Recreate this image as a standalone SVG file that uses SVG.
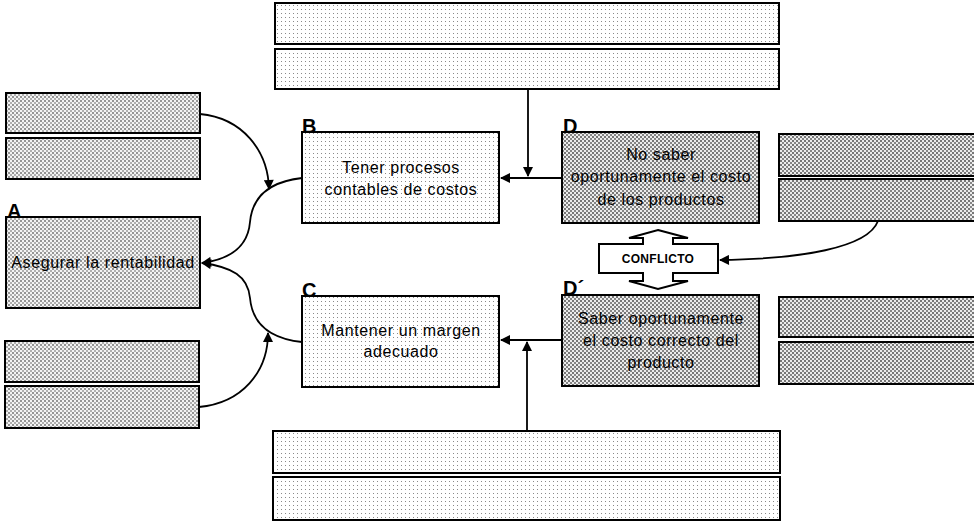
<svg xmlns="http://www.w3.org/2000/svg" width="974" height="522" viewBox="0 0 974 522">
  <defs>
    <!-- stipple fills -->
    <pattern id="dotLight" patternUnits="userSpaceOnUse" width="4" height="4">
      <rect width="4" height="4" fill="#ffffff"/>
      <rect x="1" y="1" width="1" height="1" fill="#8a8a8a"/>
    </pattern>
    <pattern id="dotMed" patternUnits="userSpaceOnUse" width="4" height="4">
      <rect width="4" height="4" fill="#f4f4f4"/>
      <rect x="0" y="0" width="2" height="2" fill="#959595"/>
      <rect x="2" y="2" width="2" height="2" fill="#b0b0b0"/>
    </pattern>
    <pattern id="dotDense" patternUnits="userSpaceOnUse" width="4" height="4">
      <rect width="4" height="4" fill="#ececec"/>
      <rect x="0" y="0" width="2" height="2" fill="#767676"/>
      <rect x="2" y="2" width="2" height="2" fill="#868686"/>
    </pattern>
    <marker id="arrow" viewBox="0 0 10 10" refX="9" refY="5" markerWidth="12" markerHeight="10" markerUnits="userSpaceOnUse" orient="auto">
      <path d="M0,0 L10,5 L0,10 Z" fill="#000"/>
    </marker>
    <style>
      .box { stroke: #000; stroke-width: 2; }
      .light { fill: url(#dotLight); }
      .med { fill: url(#dotMed); }
      .dense { fill: url(#dotDense); }
      .txt { font-family: "Liberation Sans", Arial, sans-serif; font-size: 16px; letter-spacing: 0.6px; fill: #000; text-anchor: middle; }
      .lbl { font-family: "Liberation Sans", Arial, sans-serif; font-size: 20px; font-weight: bold; fill: #000; }
      .conn { fill: none; stroke: #000; stroke-width: 1.8; }
    </style>
  </defs>

  <rect width="974" height="522" fill="#ffffff"/>

  <!-- top empty boxes -->
  <g id="top-boxes">
    <rect class="box light" x="275" y="3" width="504" height="41"/>
    <rect class="box light" x="275" y="49" width="504" height="40"/>
  </g>

  <!-- left empty boxes (upper) -->
  <g id="left-upper-boxes">
    <rect class="box med" x="6" y="93" width="194" height="40"/>
    <rect class="box med" x="6" y="138" width="194" height="41"/>
  </g>

  <!-- left empty boxes (lower) -->
  <g id="left-lower-boxes">
    <rect class="box med" x="5" y="341" width="194" height="41"/>
    <rect class="box med" x="5" y="386" width="194" height="42"/>
  </g>

  <!-- right empty boxes (upper) -->
  <g id="right-upper-boxes">
    <rect class="box dense" x="779" y="134" width="205" height="42"/>
    <rect class="box dense" x="779" y="179" width="205" height="42"/>
  </g>

  <!-- right empty boxes (lower) -->
  <g id="right-lower-boxes">
    <rect class="box dense" x="779" y="297" width="205" height="40"/>
    <rect class="box dense" x="779" y="342" width="205" height="42"/>
  </g>

  <!-- bottom empty boxes -->
  <g id="bottom-boxes">
    <rect class="box light" x="273" y="431" width="507" height="42"/>
    <rect class="box light" x="273" y="477" width="507" height="43"/>
  </g>

  <!-- A -->
  <g id="node-A">
    <rect class="box med" x="6" y="217" width="194" height="91"/>
    <text class="lbl" x="7" y="218">A</text>
    <text class="txt" x="103" y="268">Asegurar la rentabilidad</text>
  </g>

  <!-- B -->
  <g id="node-B">
    <rect class="box light" x="302" y="132" width="197" height="91"/>
    <text class="lbl" x="302" y="133">B</text>
    <text class="txt" x="401" y="173">Tener procesos</text>
    <text class="txt" x="401" y="195">contables de costos</text>
  </g>

  <!-- C -->
  <g id="node-C">
    <rect class="box light" x="302" y="296" width="197" height="91"/>
    <text class="lbl" x="302" y="297">C</text>
    <text class="txt" x="401" y="336">Mantener un margen</text>
    <text class="txt" x="401" y="357">adecuado</text>
  </g>

  <!-- D -->
  <g id="node-D">
    <rect class="box dense" x="562" y="132" width="197" height="91"/>
    <text class="lbl" x="563" y="133">D</text>
    <text class="txt" x="661" y="160">No saber</text>
    <text class="txt" x="661" y="182">oportunamente el costo</text>
    <text class="txt" x="661" y="205">de los productos</text>
  </g>

  <!-- D' -->
  <g id="node-D-prime">
    <rect class="box dense" x="562" y="295" width="197" height="91"/>
    <text class="lbl" x="563" y="295">D´</text>
    <text class="txt" x="661" y="324">Saber oportunamente</text>
    <text class="txt" x="661" y="346">el costo correcto del</text>
    <text class="txt" x="661" y="368">producto</text>
  </g>

  <!-- conflict double arrow -->
  <g id="conflicto">
    <path d="M658,230 L688,238 L673,238 L673,244 L718,244 L718,273 L673,273 L673,281 L688,281 L658,289 L629,281 L643,281 L643,273 L599,273 L599,244 L643,244 L643,238 L629,238 Z" fill="#fff" stroke="#000" stroke-width="2" stroke-linejoin="miter"/>
    <text x="658" y="263" font-family="Liberation Sans, Arial, sans-serif" font-size="12" font-weight="bold" letter-spacing="0.3" text-anchor="middle" fill="#000">CONFLICTO</text>
  </g>

  <!-- connectors -->
  <g id="connectors">
    <!-- D to B, with input from top -->
    <line class="conn" x1="562" y1="178" x2="501" y2="178" marker-end="url(#arrow)"/>
    <line class="conn" x1="528" y1="89" x2="528" y2="176" marker-end="url(#arrow)"/>
    <!-- D' to C, with input from bottom -->
    <line class="conn" x1="562" y1="340" x2="501" y2="340" marker-end="url(#arrow)"/>
    <line class="conn" x1="527" y1="431" x2="527" y2="342" marker-end="url(#arrow)"/>
    <!-- B to A and C to A -->
    <path class="conn" d="M302,178 C266,182 252,200 250,222 C248,246 232,259 202,263" marker-end="url(#arrow)"/>
    <path class="conn" d="M302,342 C266,338 252,320 250,298 C248,276 232,267 202,263" marker-end="url(#arrow)"/>
    <!-- side inputs into the B-A and C-A links -->
    <path class="conn" d="M200,114 C242,118 268,150 269,189" marker-end="url(#arrow)"/>
    <path class="conn" d="M199,407 C242,403 268,372 268,333" marker-end="url(#arrow)"/>
    <!-- right boxes into the conflict -->
    <path class="conn" d="M878,221 C868,248 800,259 720,260" marker-end="url(#arrow)"/>
  </g>
</svg>
